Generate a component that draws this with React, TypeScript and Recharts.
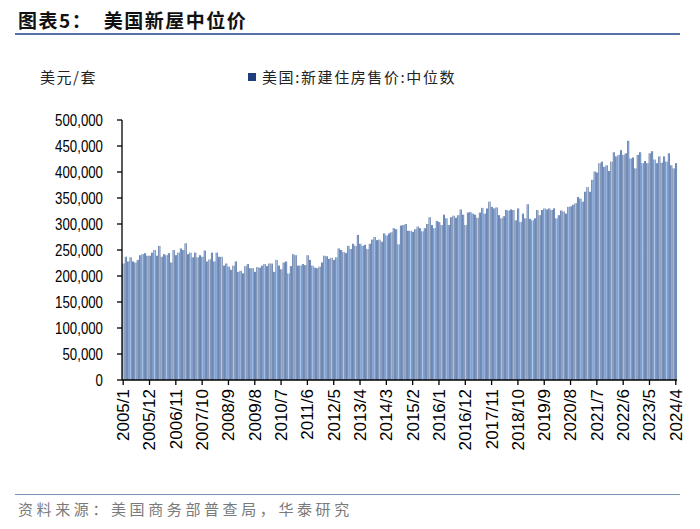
import React from 'react';
import { BarChart, Bar, XAxis, YAxis } from 'recharts';

// Monthly categories: 2005/1 ... 2024/4
const START_YEAR = 2005;
const END_YEAR = 2024;
const END_MONTH = 4;
const MONTHS: string[] = [];
for (let y = START_YEAR; y <= END_YEAR; y++) {
  for (let m = 1; m <= 12; m++) {
    if (y === END_YEAR && m > END_MONTH) break;
    MONTHS.push(`${y}/${m}`);
  }
}

// 美国:新建住房售价:中位数 (美元/套)
const PRICES: number[] = [
  224000, 237000, 228000, 236000, 228000, 226000, 231000, 240000, 242000, 244000, 239000, 239000, // 2005
  245000, 250000, 239000, 258000, 237000, 242000, 240000, 244000, 226000, 250000, 240000, 245000, // 2006
  253000, 250000, 263000, 242000, 245000, 236000, 245000, 236000, 240000, 237000, 249000, 228000, // 2007
  232000, 245000, 228000, 245000, 237000, 237000, 220000, 224000, 218000, 212000, 220000, 228000, // 2008
  208000, 210000, 205000, 219000, 223000, 215000, 215000, 208000, 217000, 216000, 220000, 223000, // 2009
  219000, 224000, 224000, 208000, 231000, 220000, 213000, 226000, 228000, 205000, 219000, 242000, // 2010
  240000, 220000, 220000, 223000, 221000, 240000, 231000, 220000, 216000, 215000, 218000, 226000, // 2011
  239000, 238000, 233000, 235000, 231000, 236000, 253000, 250000, 246000, 244000, 258000, 252000, // 2012
  262000, 258000, 279000, 262000, 258000, 260000, 252000, 262000, 270000, 275000, 269000, 270000, // 2013
  266000, 282000, 278000, 282000, 284000, 292000, 290000, 261000, 297000, 298000, 300000, 287000, // 2014
  287000, 285000, 290000, 295000, 292000, 286000, 292000, 300000, 313000, 298000, 292000, 306000, // 2015
  304000, 298000, 318000, 311000, 298000, 313000, 316000, 312000, 317000, 328000, 318000, 298000, // 2016
  322000, 323000, 320000, 318000, 312000, 322000, 331000, 320000, 330000, 343000, 333000, 330000, // 2017
  332000, 317000, 311000, 315000, 327000, 326000, 328000, 327000, 307000, 330000, 304000, 320000, // 2018
  311000, 338000, 310000, 307000, 311000, 327000, 317000, 327000, 330000, 328000, 330000, 327000, // 2019
  330000, 311000, 317000, 326000, 324000, 320000, 333000, 334000, 337000, 340000, 352000, 349000, // 2020
  343000, 362000, 371000, 362000, 385000, 401000, 399000, 417000, 420000, 410000, 413000, 402000, // 2021
  420000, 438000, 430000, 433000, 442000, 433000, 436000, 460000, 426000, 428000, 407000, 433000, // 2022
  438000, 417000, 421000, 417000, 436000, 440000, 424000, 417000, 430000, 418000, 430000, 420000, // 2023
  436000, 413000, 407000, 417000, // 2024
];

const Y_TICKS: number[] = [0, 50000, 100000, 150000, 200000, 250000, 300000, 350000, 400000, 450000, 500000];

const TITLE = '图表5：  美国新屋中位价';
const UNIT = '美元/套';
const SERIES_NAME = '美国:新建住房售价:中位数';
const SOURCE = '资料来源：美国商务部普查局，华泰研究';

const data = MONTHS.map((m, i) => ({ month: m, price: PRICES[i] }));

const LATIN = '"Liberation Sans", Arial, sans-serif';
const CJK = '"Noto Sans CJK SC", "Noto Sans", sans-serif';

const XTick = (props: any) => {
  const { x, y, payload } = props;
  return (
    <text
      x={x}
      y={y}
      transform={`rotate(-90, ${x}, ${y})`}
      textAnchor="end"
      dy="0.35em"
      fontSize={17}
      fontFamily={LATIN}
      fill="#000"
    >
      {payload.value}
    </text>
  );
};

const YTick = (props: any) => {
  const { x, y, payload } = props;
  return (
    <text
      transform={`translate(${x}, ${y}) scale(0.78, 1)`}
      x={0}
      y={0}
      textAnchor="end"
      dy="0.35em"
      fontSize={17}
      fontFamily={LATIN}
      fill="#000"
    >
      {Number(payload.value).toLocaleString('en-US')}
    </text>
  );
};

export default function App() {
  return (
    <div
      style={{
        position: 'absolute',
        left: 0,
        top: 0,
        width: 700,
        height: 529,
        background: '#fff',
        overflow: 'hidden',
      }}
    >
      <div
        style={{
          position: 'absolute',
          left: 18,
          top: 6,
          fontFamily: CJK,
          fontWeight: 700,
          fontSize: 19,
          color: '#111',
          whiteSpace: 'pre',
          letterSpacing: 1.5,
        }}
      >
        {TITLE}
      </div>
      <div style={{ position: 'absolute', left: 15, top: 33, width: 665, height: 2, background: '#5473a6' }} />

      <div style={{ position: 'absolute', left: 40, top: 66, fontFamily: CJK, fontSize: 15, color: '#222', letterSpacing: 1.5 }}>{UNIT}</div>

      <div style={{ position: 'absolute', left: 248, top: 66, display: 'flex', alignItems: 'center', fontFamily: CJK, fontSize: 15, color: '#222', letterSpacing: 1.6 }}>
        <span style={{ display: 'inline-block', width: 8, height: 8, background: '#1f3e7c', marginRight: 6 }} />
        <span>{SERIES_NAME}</span>
      </div>

      <div style={{ position: 'absolute', left: 0, top: 0 }}>
        <BarChart
          width={700}
          height={529}
          data={data}
          margin={{ top: 120, right: 23, bottom: 79, left: 0 }}
          barCategoryGap="18%"
        >
          <defs>
            <linearGradient id="barGrad" x1="0" y1="0" x2="1" y2="0">
              <stop offset="0%" stopColor="#264884" />
              <stop offset="50%" stopColor="#afc8ec" />
              <stop offset="100%" stopColor="#264884" />
            </linearGradient>
          </defs>
          <XAxis
            dataKey="month"
            interval={10}
            height={70}
            tick={<XTick />}
            tickSize={5}
            tickMargin={4}
            axisLine={{ stroke: '#000', strokeWidth: 1.3 }}
            tickLine={{ stroke: '#000', strokeWidth: 1.3 }}
          />
          <YAxis
            width={122}
            domain={[0, 500000]}
            ticks={Y_TICKS}
            interval={0}
            tick={<YTick />}
            tickSize={5}
            tickMargin={14}
            axisLine={{ stroke: '#000', strokeWidth: 1.3 }}
            tickLine={{ stroke: '#000', strokeWidth: 1.3 }}
          />
          <Bar dataKey="price" fill="url(#barGrad)" isAnimationActive={false} />
        </BarChart>
      </div>

      <div style={{ position: 'absolute', left: 15, top: 494, width: 665, height: 1, background: '#7d93b8' }} />
      <div style={{ position: 'absolute', left: 18, top: 498, fontFamily: CJK, fontSize: 15, color: '#7a7a7a', letterSpacing: 3.6 }}>
        {SOURCE}
      </div>
    </div>
  );
}
